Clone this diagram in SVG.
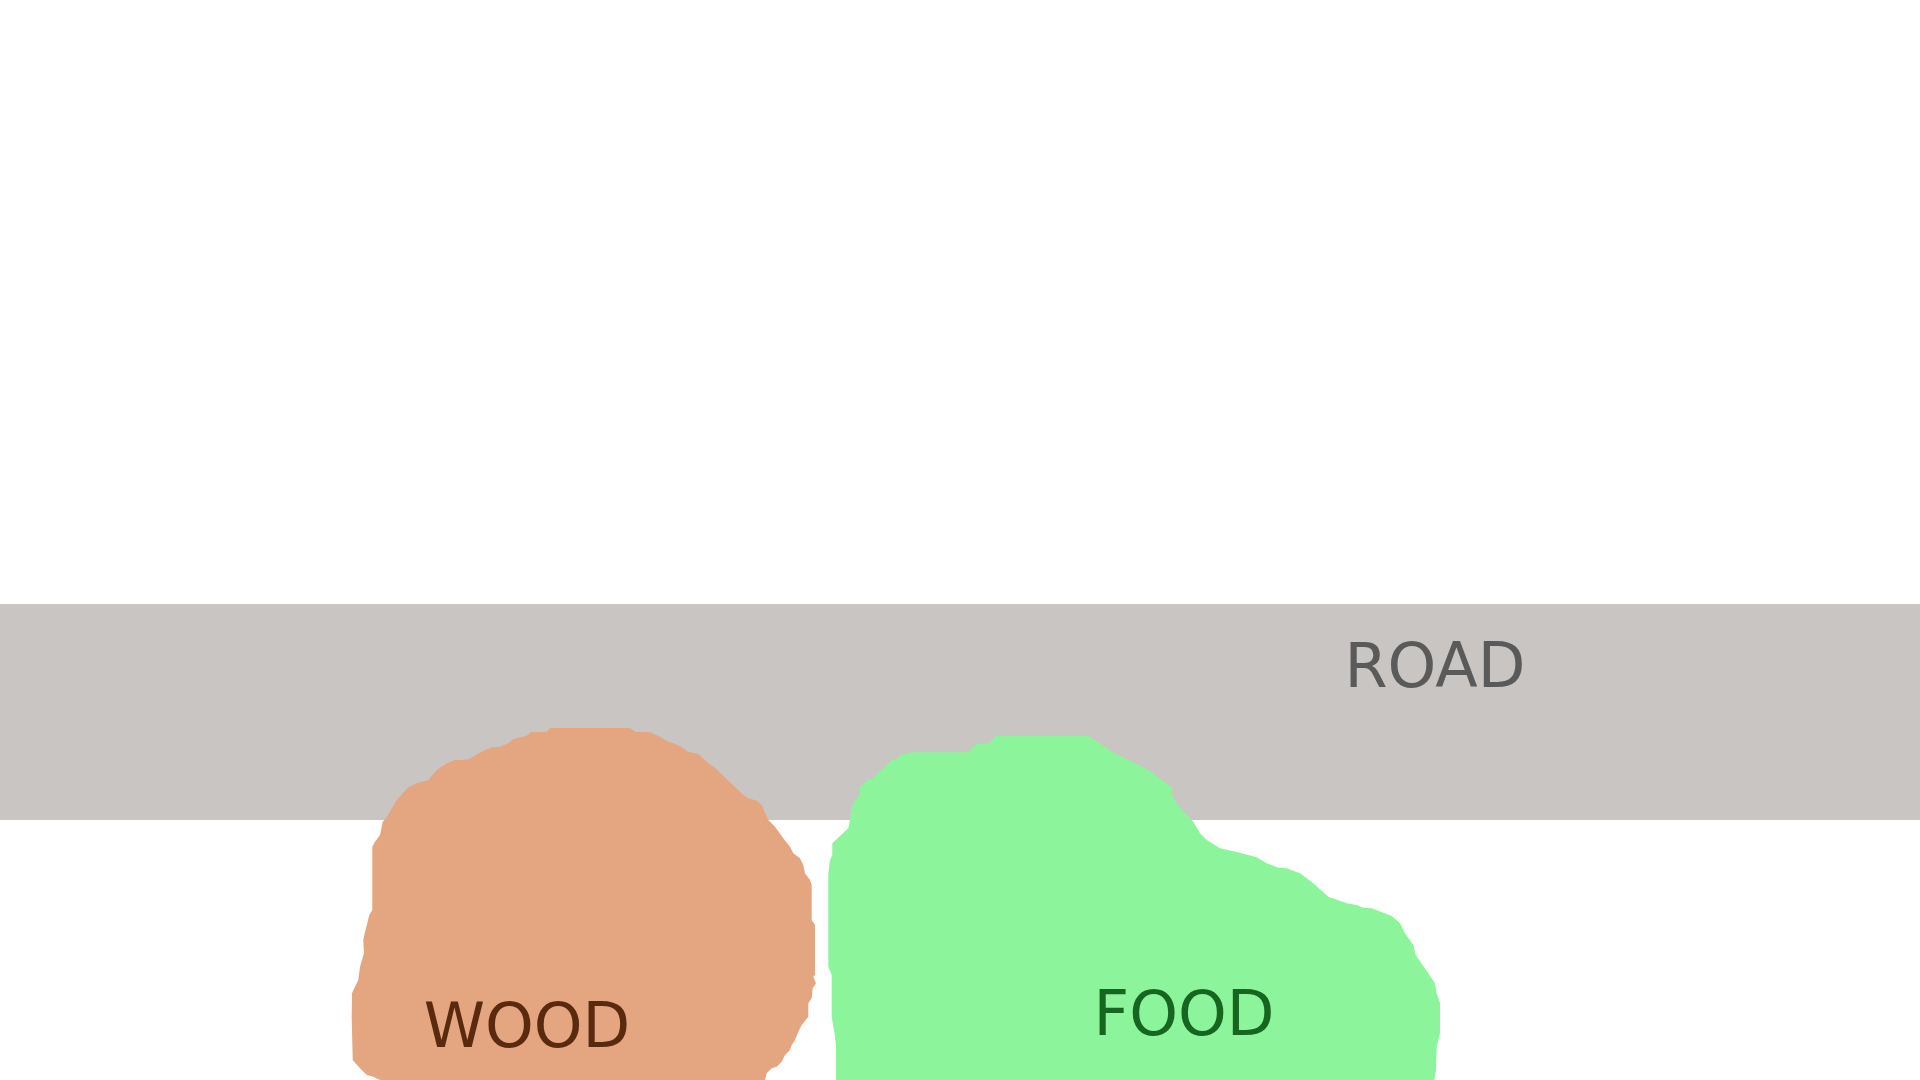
<svg xmlns="http://www.w3.org/2000/svg" width="1920" height="1080" viewBox="0 0 1920 1080">
<style>
.lbl{font-family:"DejaVu Sans","Liberation Sans",sans-serif;font-size:62px;text-anchor:middle}
</style>
<rect x="0" y="0" width="1920" height="1080" fill="#FFFFFF"/>
<g id="road">
<rect x="0" y="604" width="1920" height="216" fill="#C9C5C2"/>
<text class="lbl" x="1435" y="687" fill="#5A5A5A">ROAD</text>
</g>
<g id="wood">
<polygon fill="#E4A680" points="550,728 630,728 635,731.7 650,732.3 660,736.7 665,740 680,746 688.3,751.7 698.3,754 708.3,763.3 715,767.7 743.3,795 748.3,798.3 756.7,800.7 761.7,805 768.3,820 775,826.7 783.3,838.3 790,846.7 793.3,853.3 800,858.3 803.3,865 805,873.3 810,880 811.7,885 811.7,920 815,925 815,975 813.3,976.7 816,983.3 812.7,988.3 811.7,998.3 808.3,1003.3 808.3,1016.7 801.7,1025 798.3,1031.7 795,1040 791.7,1045 790,1050 785,1055 781.7,1061.7 776.7,1066.7 771.7,1068.3 766.7,1073.3 765,1080 380,1080 373.3,1076.7 366.7,1075 360,1068.3 352.7,1060 351.7,1016.7 352,993.3 355,986.7 358.3,980 360,966.7 364,953.3 363.3,940 364.3,935 369.3,915 372.3,910 372.3,846.7 375,841.7 380,835 382.7,821.7 386.7,817.3 396.7,800 408.3,787.3 416.7,783.3 428.3,780 436.7,770 446.7,763.3 455,760 461.7,760 468.3,759.3 485,750 492.3,747.3 500,746.7 508.3,743.3 513.3,739 526.7,735.7 530.7,732.3 546.7,731.7"/>
<text class="lbl" x="527" y="1047" fill="#5A2A0E">WOOD</text>
</g>
<g id="food">
<polygon fill="#8CF59B" points="996,736 1088.3,736 1100,743.3 1111.7,751.7 1150,770.7 1161.7,780 1171.7,787.3 1172.7,796.7 1176.7,804 1193.3,821.7 1200,833.3 1206.7,840 1220,848.3 1240,852.7 1256.7,857.3 1266.7,863.3 1278.3,867.7 1286.7,868.3 1300,873.3 1313.3,883.3 1328.3,896.7 1346.7,903.3 1356.7,905 1363.3,907.7 1371.7,908.3 1391.7,916 1400,923.3 1405,933.3 1413.3,945 1415.7,955 1435,983.3 1436.7,993.3 1440,1003.3 1440,1033.3 1436.7,1046.7 1436,1070 1434.3,1080 836,1080 836,1046.7 835,1036.7 831.7,1016.7 831.7,975 828.3,966.7 828.3,873.3 830,860 832.3,855 832.3,843.3 848.3,828.3 850,820 851.7,806.7 855,800 860,795 860,786.7 868.3,779.3 871.7,779.3 891.7,760 896.7,759.3 900,755 911.7,752.3 968.3,752.3 976.7,744 988.3,744"/>
<text class="lbl" x="1184" y="1035" fill="#16661F">FOOD</text>
</g>
<g id="connectors"/>
</svg>
